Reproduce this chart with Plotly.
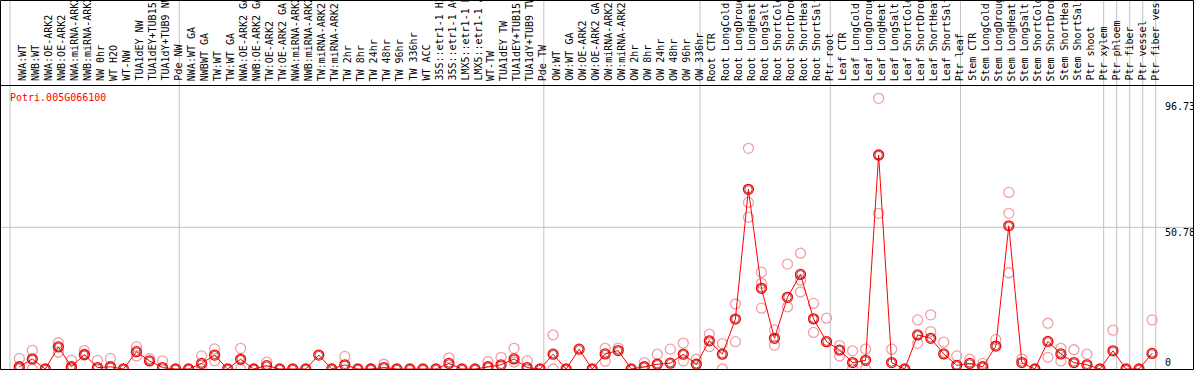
import plotly.graph_objects as go

W, H = 1194, 370

labels = [
    "NWA:WT", "NWB:WT", "NWA:OE-ARK2", "NWB:OE-ARK2", "NWA:miRNA-ARK2", "NWB:miRNA-ARK2",
    "NW 0hr", "WT H2O", "WT-NW", "TUA1dEY NW", "TUA1dEY+TUB15 NW", "TUA1dY+TUB9 NW", "Pde NW",
    "NWA:WT GA", "NWBWT GA", "TW:WT", "TW:WT GA", "NWA:OE-ARK2 GA", "NWB:OE-ARK2 GA",
    "TW:OE-ARK2", "TW:OE-ARK2 GA", "NWA:miRNA-ARK2 GA", "NWB:miRNA-ARK2 GA", "TW:miRNA-ARK2",
    "TW:miRNA-ARK2 GA", "TW 2hr", "TW 8hr", "TW 24hr", "TW 48hr", "TW 96hr", "TW 336hr",
    "WT ACC", "35S::etr1-1 H2O", "35S::etr1-1 ACC", "LMX5::etr1-1 H2O", "LMX5::etr1-1 ACC",
    "WT-TW", "TUA1dEY TW", "TUA1dEY+TUB15 TW", "TUA1dY+TUB9 TW", "Pde TW",
    "OW:WT", "OW:WT GA", "OW:OE-ARK2", "OW:OE-ARK2 GA", "OW:miRNA-ARK2", "OW:miRNA-ARK2 GA",
    "OW 2hr", "OW 8hr", "OW 24hr", "OW 48hr", "OW 96hr", "OW 336hr",
    "Root CTR", "Root LongCold", "Root LongDrought", "Root LongHeat", "Root LongSalt",
    "Root ShortCold", "Root ShortDrought", "Root ShortHeat", "Root ShortSalt", "Ptr root",
    "Leaf CTR", "Leaf LongCold", "Leaf LongDrought", "Leaf LongHeat", "Leaf LongSalt",
    "Leaf ShortCold", "Leaf ShortDrought", "Leaf ShortHeat", "Leaf ShortSalt", "Ptr leaf",
    "Stem CTR", "Stem LongCold", "Stem LongDrought", "Stem LongHeat", "Stem LongSalt",
    "Stem ShortCold", "Stem ShortDrought", "Stem ShortHeat", "Stem ShortSalt", "Ptr shoot",
    "Ptr xylem", "Ptr phloem", "Ptr fiber", "Ptr vessel", "Ptr fiber vessel",
]

group_sizes = [13, 28, 12, 10, 10, 11, 1, 1, 1, 1]

means = [
    0.8, 3.6, 0, 7.9, 0.8, 5.1, 0.5, 0.8, 0, 6.2, 2.9, 0.5, 0,
    0, 2.0, 5.0, 0, 3.5, 0, 1.2, 0, 0, 0, 5.0, 0, 1.5, 0, 0, 0.5, 0, 0, 0, 0, 2.0,
    0, 0, 0.8, 1.5, 3.6, 0.5, 0,
    5.3, 0, 7.1, 0, 5.4, 6.6, 0, 0.8, 1.7, 2.1, 5.3, 1.7,
    10.1, 5.3, 17.9, 64.4, 28.9, 11.0, 25.7, 33.9, 18.0, 9.8,
    6.8, 2.3, 3.1, 76.7, 2.3, 0, 12.2, 11.0, 5.4, 1.3,
    2.0, 0.8, 8.2, 51.3, 2.3, 0, 9.9, 5.4, 2.3, 1.5, 0,
    6.5, 0, 0, 5.6,
]

N = None
rep_a = [
    3.8, 6.7, N, 9.4, 3.1, 6.6, 3.1, 3.8, N, 8.0, 3.7, 2.9, N,
    N, 4.7, 7.2, N, 7.4, N, 2.5, N, N, N, N, N, 4.5, N, 0, 1.7, N, N, N, N, 4.0,
    N, N, 2.6, 4.2, 7.4, 2.9, N,
    12.2, N, N, N, 7.4, 7.5, N, 2.3, 5.3, 7.1, 9.3, 3.5,
    12.5, 9.1, 23.3, 79.1, 34.7, 14.0, 37.6, 41.5, 23.5, 18.2,
    8.4, 6.5, 7.1, 97.0, 7.1, N, 17.6, 19.4, 9.6, 4.7,
    3.5, 2.0, 10.6, 63.3, 3.6, N, 16.4, 7.4, 6.9, 5.3, N,
    13.9, N, N, 17.6,
]
rep_b = [
    0, 0, N, 6.0, 0, 5.3, N, N, N, 4.7, N, N, N,
    N, 0, 3.0, N, 0, N, N, N, N, N, N, N, N, N, N, N, N, N, N, N, N,
    N, N, N, N, 2.5, N, N,
    0, N, N, N, 2.8, N, N, N, N, N, 2.9, N,
    8.0, 0, 9.8, 59.7, 30.7, 8.5, 22.3, 31.9, 13.1, N,
    4.7, 0, 0, 55.8, N, N, 9.2, 13.4, N, N,
    N, N, N, 55.8, N, N, 4.2, 2.9, N, N, N,
    N, N, N, N,
]
rep_c = [N] * 56 + [54.4, 21.8, N, N, 27.6] + [N] * 15 + [34.5] + [N] * 11

gene = "Potri.005G066100"
ytick_vals = [96.73, 50.78, 0]
ytick_text = ["96.73", "50.78", "0"]

# pixel geometry
PX0, DX = 19.3, 13.02      # first column centre, column width (px)
Y0, DY = 369.0, 2.79       # zero line (px), px per unit
LABEL_BOTTOM = 83
x_range = [-PX0 / DX, (W - PX0) / DX]
y_range = [-(H - Y0) / DY, Y0 / DY]

def xp(px):   # pixel -> paper x
    return px / W

def yp(py):   # pixel -> paper y
    return 1 - py / H

def xd(px):   # pixel -> data x
    return (px - PX0) / DX

xs = list(range(len(labels)))
fig = go.Figure()

pink = "#f0a0a8"
for reps in (rep_a, rep_b, rep_c):
    fig.add_trace(go.Scatter(
        x=xs, y=reps, mode="markers",
        marker=dict(symbol="circle-open", size=10, color=pink, line=dict(width=1.3, color=pink)),
        hoverinfo="skip", showlegend=False, cliponaxis=False))

fig.add_trace(go.Scatter(
    x=xs, y=means, mode="lines", line=dict(color="#ff0000", width=1),
    hoverinfo="skip", showlegend=False, cliponaxis=False))
fig.add_trace(go.Scatter(
    x=xs, y=means, mode="markers",
    marker=dict(symbol="circle-open", size=10, color="#ff0000", line=dict(width=1.3, color="#ff0000")),
    showlegend=False, cliponaxis=False))
fig.add_trace(go.Scatter(
    x=xs, y=means, mode="markers",
    marker=dict(symbol="circle-open", size=7.5, color="#700000", line=dict(width=0.7, color="#700000")),
    hoverinfo="skip", showlegend=False, cliponaxis=False))

shapes = []
grey = "#c0c0c0"
# group boundary lines
k = 0
for g in [0] + group_sizes:
    k += g
    px = 10 + DX * k
    shapes.append(dict(type="line", xref="x", yref="paper", x0=xd(px), x1=xd(px),
                       y0=yp(0), y1=yp(Y0), line=dict(color=grey, width=1), layer="below"))
# horizontal gridline at the middle tick
shapes.append(dict(type="line", xref="paper", yref="y", x0=0, x1=xp(1193), y0=ytick_vals[1],
                   y1=ytick_vals[1], line=dict(color=grey, width=1), layer="below"))
# frame
shapes.append(dict(type="rect", xref="paper", yref="paper", x0=xp(0.5), x1=xp(1193.5),
                   y0=yp(0.5), y1=yp(369.5), line=dict(color="black", width=1)))
shapes.append(dict(type="line", xref="paper", yref="paper", x0=0, x1=xp(1194),
                   y0=yp(85.5), y1=yp(85.5), line=dict(color="black", width=1)))

mono = "DejaVu Sans Mono"
ann = []
for i, lab in enumerate(labels):
    ann.append(dict(x=i + 0.2, y=yp(LABEL_BOTTOM), xref="x", yref="paper", text=lab,
                    textangle=-90, showarrow=False, xanchor="center", yanchor="bottom",
                    font=dict(family=mono, size=10, color="black")))
ann.append(dict(x=xp(8), y=yp(97), xref="paper", yref="paper", text=gene, showarrow=False,
                xanchor="left", yanchor="middle", font=dict(family=mono, size=10, color="#ff0000")))
ylab_pos = [107, 232, 362]
for t, py in zip(ytick_text, ylab_pos):
    ann.append(dict(x=xp(1163), y=yp(py), xref="paper", yref="paper", text=t, showarrow=False,
                    xanchor="left", yanchor="middle", font=dict(family=mono, size=10, color="black")))

fig.update_layout(
    width=W, height=H, margin=dict(l=0, r=0, t=0, b=0),
    paper_bgcolor="white", plot_bgcolor="white",
    xaxis=dict(range=x_range, visible=False, fixedrange=True),
    yaxis=dict(range=y_range, visible=False, fixedrange=True),
    shapes=shapes, annotations=ann, showlegend=False,
)

fig.write_html("out.html", config={"displayModeBar": False},
               post_script="document.body.style.margin='0';")
